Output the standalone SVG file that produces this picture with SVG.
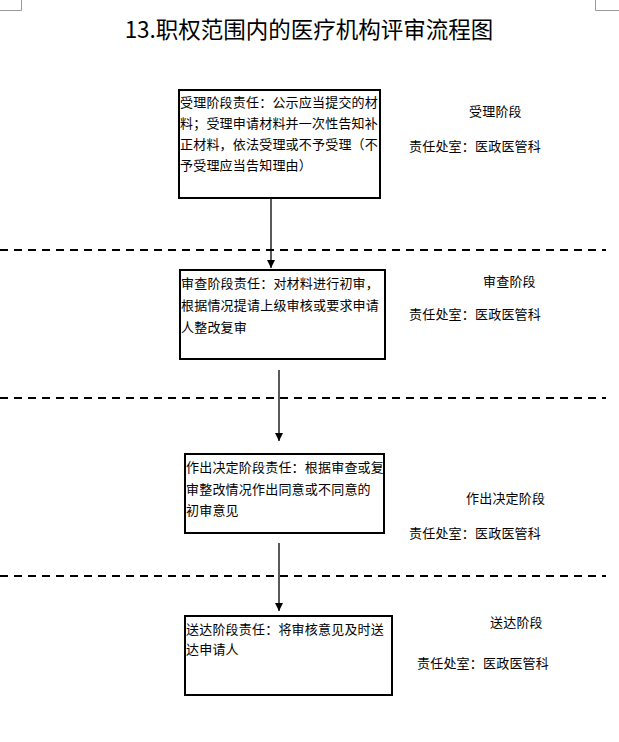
<svg xmlns="http://www.w3.org/2000/svg" width="619" height="742" viewBox="0 0 619 742">
<style>
.t{font-family:"Noto Sans CJK SC","Noto Sans",sans-serif;font-size:13px;fill:#000;letter-spacing:0.2px}
.title{font-family:"Noto Sans CJK SC","Noto Sans",sans-serif;font-size:22.5px;fill:#000}
.box{fill:#fff;stroke:#000;stroke-width:2}
.dash{stroke:#000;stroke-width:2;stroke-dasharray:8 6;fill:none}
.conn{stroke:#000;stroke-width:1.3;fill:none}
.corner{stroke:#999;stroke-width:1;fill:none}
</style>
<defs>
<marker id="arr" viewBox="0 0 8 10" refX="8" refY="5" markerWidth="8" markerHeight="10" markerUnits="userSpaceOnUse" orient="auto">
<path d="M0,1 L8,5 L0,9 z" fill="#000"/>
</marker>
</defs>
<rect width="619" height="742" fill="#fff"/>
<g id="corners">
<path class="corner" d="M0,10.5 H21.5 V0"/>
<path class="corner" d="M619,10.5 H595.5 V0"/>
</g>
<text class="title" x="309" y="38" text-anchor="middle">13.职权范围内的医疗机构评审流程图</text>
<g id="separators">
<line class="dash" x1="0" y1="250" x2="606" y2="250"/>
<line class="dash" x1="0" y1="398" x2="606" y2="398"/>
<line class="dash" x1="0" y1="576" x2="606" y2="576"/>
</g>
<g id="connectors">
<line class="conn" x1="271" y1="199" x2="271" y2="268" marker-end="url(#arr)"/>
<line class="conn" x1="279" y1="370" x2="279" y2="441" marker-end="url(#arr)"/>
<line class="conn" x1="279" y1="543" x2="279" y2="611" marker-end="url(#arr)"/>
</g>
<g id="node1">
<rect class="box" x="179" y="90" width="201" height="108"/>
<text class="t" x="180" y="107">受理阶段责任：公示应当提交的材</text>
<text class="t" x="180" y="128">料；受理申请材料并一次性告知补</text>
<text class="t" x="180" y="149">正材料，依法受理或不予受理（不</text>
<text class="t" x="180" y="170">予受理应当告知理由）</text>
</g>
<g id="node2">
<rect class="box" x="180" y="270" width="205" height="89"/>
<text class="t" x="181" y="288">审查阶段责任：对材料进行初审，</text>
<text class="t" x="181" y="310">根据情况提请上级审核或要求申请</text>
<text class="t" x="181" y="332">人整改复审</text>
</g>
<g id="node3">
<rect class="box" x="185" y="454" width="199" height="79"/>
<text class="t" x="186" y="472">作出决定阶段责任：根据审查或复</text>
<text class="t" x="186" y="494">审整改情况作出同意或不同意的</text>
<text class="t" x="186" y="515">初审意见</text>
</g>
<g id="node4">
<rect class="box" x="185" y="616" width="207" height="79"/>
<text class="t" x="186" y="634">送达阶段责任：将审核意见及时送</text>
<text class="t" x="186" y="654">达申请人</text>
</g>
<g id="label1">
<text class="t" x="469" y="116">受理阶段</text>
<text class="t" x="409" y="151">责任处室：医政医管科</text>
</g>
<g id="label2">
<text class="t" x="483" y="286">审查阶段</text>
<text class="t" x="409" y="319">责任处室：医政医管科</text>
</g>
<g id="label3">
<text class="t" x="466" y="503">作出决定阶段</text>
<text class="t" x="409" y="538">责任处室：医政医管科</text>
</g>
<g id="label4">
<text class="t" x="490" y="627">送达阶段</text>
<text class="t" x="417" y="668">责任处室：医政医管科</text>
</g>
</svg>
